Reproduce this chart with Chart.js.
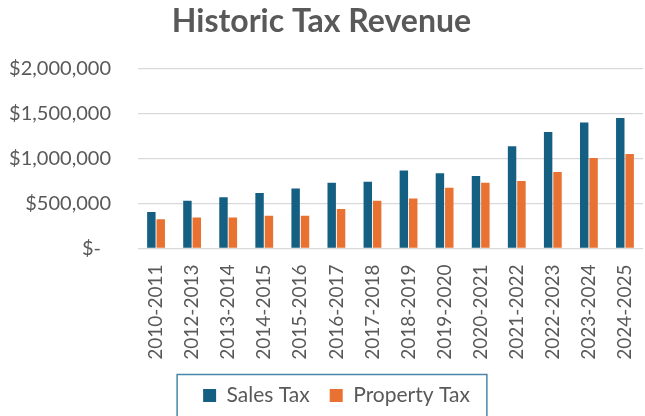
<!DOCTYPE html>
<html>
<head>
<meta charset="utf-8">
<script src="https://cdn.jsdelivr.net/npm/chart.js@4"></script>
<style>
html,body{margin:0;padding:0;background:#fff;overflow:hidden;}
canvas{display:block;}
</style>
</head>
<body>
<canvas id="c" width="645" height="416"></canvas>
<script>
const categories = ["2010-2011","2012-2013","2013-2014","2014-2015","2015-2016","2016-2017","2017-2018","2018-2019","2019-2020","2020-2021","2021-2022","2022-2023","2023-2024","2024-2025"];
const salesTax = [405000, 530000, 570000, 615000, 665000, 730000, 740000, 865000, 835000, 805000, 1135000, 1295000, 1400000, 1450000];
const propertyTax = [325000, 345000, 345000, 365000, 365000, 440000, 530000, 555000, 675000, 730000, 750000, 850000, 1005000, 1050000];
const yTicks = [0, 500000, 1000000, 1500000, 2000000];

const TEXT = '#595959';
const FONT = 'Lato';
const LEGEND_SIZE = 21;
const LEGEND_SHIFT = 15;

const legendBox = {
  id: 'legendBox',
  afterLayout(chart) {
    const lg = chart.legend;
    if (lg) { lg.left += LEGEND_SHIFT; lg.right += LEGEND_SHIFT; }
  },
  afterDraw(chart) {
    const lg = chart.legend;
    if (!lg || !lg.legendHitBoxes || !lg.legendHitBoxes.length) return;
    const hb = lg.legendHitBoxes;
    const items = lg.legendItems;
    const ctx = chart.ctx;
    ctx.save();
    ctx.font = LEGEND_SIZE + 'px ' + FONT;
    const last = hb[hb.length - 1];
    const lastText = items[items.length - 1].text.trim();
    const left = hb[0].left - 26;
    const right = last.left + 13 + LEGEND_SIZE / 2 + ctx.measureText(lastText).width + 17;
    const top = lg.top - 1;
    ctx.strokeStyle = '#4a87a6';
    ctx.lineWidth = 1.5;
    ctx.strokeRect(left, top, right - left, 100);
    ctx.restore();
  }
};

new Chart(document.getElementById('c'), {
  type: 'bar',
  data: {
    labels: categories,
    datasets: [
      { label: 'Sales Tax', data: salesTax, backgroundColor: '#156082', borderWidth: 0, categoryPercentage: 0.52, barPercentage: 0.9 },
      { label: 'Property Tax', data: propertyTax, backgroundColor: '#E97132', borderWidth: 0, categoryPercentage: 0.52, barPercentage: 0.9 }
    ]
  },
  options: {
    responsive: false,
    animation: false,
    devicePixelRatio: 1,
    layout: { padding: { left: 0, right: 2, top: 0, bottom: 0 } },
    plugins: {
      title: {
        display: true,
        text: 'Historic Tax Revenue',
        color: TEXT,
        font: { family: FONT, size: 32, weight: 'bold', lineHeight: 1.2 },
        padding: { top: 2, bottom: 28 }
      },
      legend: {
        position: 'bottom',
        labels: {
          color: TEXT,
          font: { family: FONT, size: LEGEND_SIZE },
          boxWidth: 13,
          boxHeight: 13,
          padding: 9.5,
          generateLabels(chart) {
            const arr = Chart.defaults.plugins.legend.labels.generateLabels(chart);
            arr.forEach((it, i) => { if (i < arr.length - 1) it.text = it.text + '\u2002'; });
            return arr;
          }
        }
      },
      tooltip: { enabled: false }
    },
    scales: {
      x: {
        grid: { display: false, drawTicks: false },
        border: { display: false },
        ticks: {
          color: TEXT,
          font: { family: FONT, size: 19 },
          minRotation: 90,
          maxRotation: 90,
          padding: 16,
          autoSkip: false
        },
        afterFit(scale) { scale.height = 127; scale.paddingRight = 0; scale.paddingLeft = 0; }
      },
      y: {
        min: 0,
        max: 2000000,
        afterBuildTicks(scale) { scale.ticks = yTicks.map(v => ({ value: v })); },
        grid: { color: '#d9d9d9', lineWidth: 1.3, drawTicks: false },
        border: { display: false },
        ticks: {
          color: TEXT,
          font: { family: FONT, size: 20 },
          padding: 27,
          callback(v) { return v === 0 ? '$-\u2002' : '$' + Number(v).toLocaleString('en-US'); }
        },
        afterFit(scale) { scale.width = 138; }
      }
    }
  },
  plugins: [legendBox]
});
</script>
</body>
</html>
